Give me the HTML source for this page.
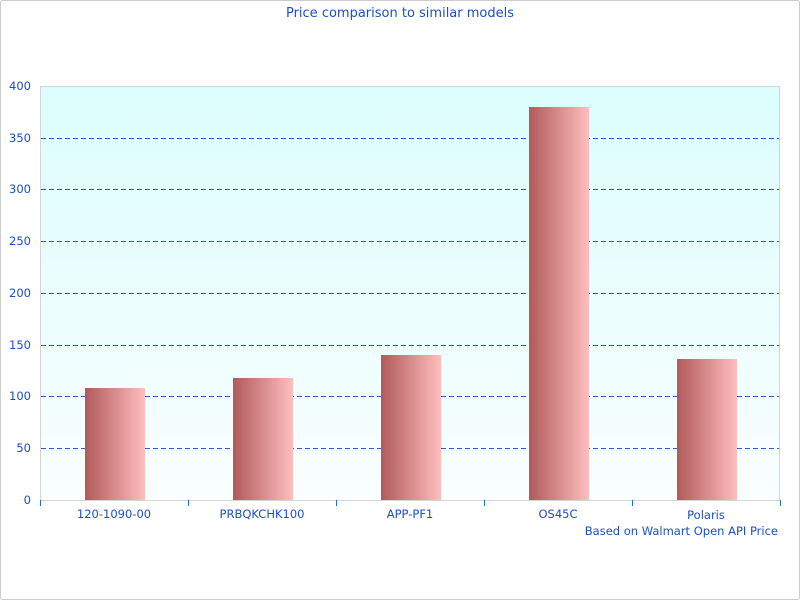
<!DOCTYPE html>
<html><head><meta charset="utf-8"><style>
html,body{margin:0;padding:0;background:#fff;}
svg{display:block;font-family:"DejaVu Sans","Liberation Sans",sans-serif;}
</style></head><body>
<svg width="800" height="600" viewBox="0 0 800 600">
<defs>
<linearGradient id="bg" x1="0" y1="0" x2="0" y2="1">
<stop offset="0" stop-color="#dcfdfd"/><stop offset="1" stop-color="#fafefe"/></linearGradient>
<linearGradient id="bar" x1="0" y1="0" x2="1" y2="0">
<stop offset="0" stop-color="#b05a5a"/><stop offset="1" stop-color="#ffbebe"/></linearGradient>
</defs>
<rect x="0.5" y="0.5" width="799" height="599" fill="#fff" stroke="#ccc" rx="2"/>
<text x="400" y="17" text-anchor="middle" font-size="13" fill="#1a4fc4">Price comparison to similar models</text>
<rect x="40.5" y="86.5" width="739" height="414" fill="url(#bg)" stroke="#d4d4d4"/>
<g stroke="#2a58d0" stroke-dasharray="5,3" stroke-width="1">
<line x1="41" x2="779" y1="138.5" y2="138.5"/>
<line x1="41" x2="779" y1="189.5" y2="189.5"/>
<line x1="41" x2="779" y1="241.5" y2="241.5"/>
<line x1="41" x2="779" y1="293.5" y2="293.5"/>
<line x1="41" x2="779" y1="345.5" y2="345.5"/>
<line x1="41" x2="779" y1="396.5" y2="396.5"/>
<line x1="41" x2="779" y1="448.5" y2="448.5"/>
</g>
<g fill="url(#bar)">
<rect x="85" y="388" width="60" height="112"/>
<rect x="233" y="378" width="60" height="122"/>
<rect x="381" y="355" width="60" height="145"/>
<rect x="529" y="107" width="60" height="393"/>
<rect x="677" y="359" width="60" height="141"/>
</g>
<g stroke="#1a6fd0">
<line x1="40.5" x2="40.5" y1="500" y2="506"/>
<line x1="188.5" x2="188.5" y1="500" y2="506"/>
<line x1="336.5" x2="336.5" y1="500" y2="506"/>
<line x1="484.5" x2="484.5" y1="500" y2="506"/>
<line x1="632.5" x2="632.5" y1="500" y2="506"/>
<line x1="780.5" x2="780.5" y1="500" y2="506"/>
</g>
<g font-size="11.5" fill="#1a4fc4" text-anchor="end">
<text x="31" y="504">0</text>
<text x="31" y="452">50</text>
<text x="31" y="400">100</text>
<text x="31" y="349">150</text>
<text x="31" y="297">200</text>
<text x="31" y="245">250</text>
<text x="31" y="193">300</text>
<text x="31" y="142">350</text>
<text x="31" y="90">400</text>
</g>
<g font-size="11.5" fill="#1a4fc4" text-anchor="middle">
<text x="114" y="518">120-1090-00</text>
<text x="262" y="518">PRBQKCHK100</text>
<text x="410" y="518">APP-PF1</text>
<text x="558" y="518">OS45C</text>
<text x="706" y="519">Polaris</text>
</g>
<text x="778" y="535" font-size="11.5" fill="#1a4fc4" text-anchor="end">Based on Walmart Open API Price</text>
</svg>
</body></html>
